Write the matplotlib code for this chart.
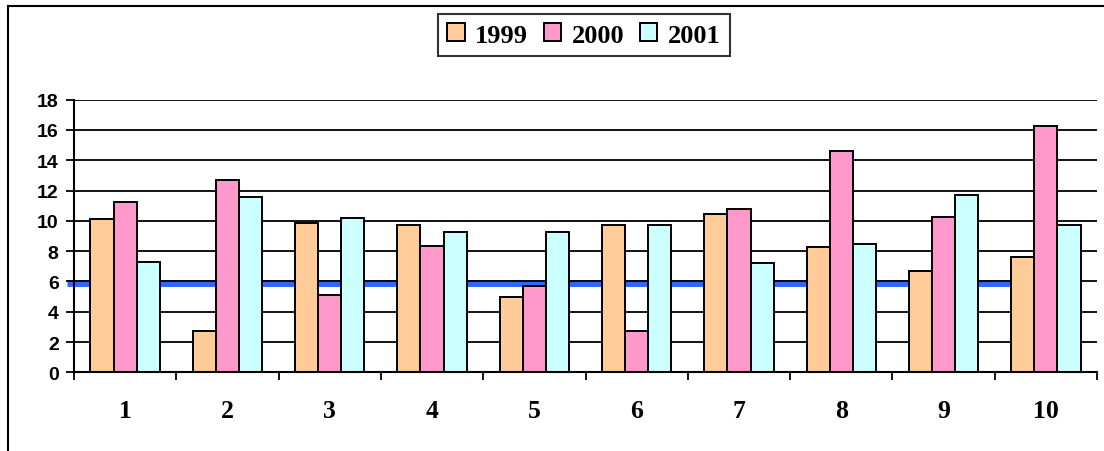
import matplotlib
matplotlib.use("Agg")
import matplotlib.pyplot as plt
from matplotlib.lines import Line2D
import numpy as np

categories = ["1", "2", "3", "4", "5", "6", "7", "8", "9", "10"]
series_names = ["1999", "2000", "2001"]
v1999 = [10.1, 2.7, 9.85, 9.75, 4.97, 9.72, 10.47, 8.25, 6.71, 7.59]
v2000 = [11.22, 12.71, 5.1, 8.34, 5.72, 2.73, 10.76, 14.6, 10.23, 16.24]
v2001 = [7.26, 11.59, 10.2, 9.24, 9.24, 9.72, 7.21, 8.49, 11.72, 9.72]
reference_level = 5.87
y_ticks = [0, 2, 4, 6, 8, 10, 12, 14, 16, 18]

colors = ["#FFCC99", "#FF99CC", "#CCFFFF"]

fig = plt.figure(figsize=(11.04, 4.52), dpi=100)
ax = fig.add_axes([74/1104, 1-373.3/452, (1097-74)/1104, (373.3-100.7)/452])

x = np.arange(len(categories))
w = 0.226
for i, (vals, name, c) in enumerate(zip([v1999, v2000, v2001], series_names, colors)):
    ax.bar(x + (i-1)*w, vals, width=w, color=c, edgecolor="black",
           linewidth=1.4, label=name, zorder=3)

# reference line (behind bars)
ax.plot([-0.57, 9.0], [reference_level, reference_level], color="#3366FF",
        linewidth=5, solid_capstyle="butt", zorder=1, clip_on=False)

ax.set_xlim(-0.5, 9.5)
ax.set_ylim(0, 18)
ax.set_yticks(y_ticks)
ax.set_yticklabels([str(t) for t in y_ticks], fontfamily="Liberation Sans",
                   fontweight="bold", fontsize=14)
ax.set_xticks(x)
ax.set_xticklabels(categories, fontfamily="Liberation Serif", fontweight="bold",
                   fontsize=18.5)
ax.set_xticks(np.arange(-0.5, 10, 1), minor=True)
ax.tick_params(axis="x", which="major", length=0, pad=19)
ax.tick_params(axis="x", which="minor", length=6, width=1.3, direction="out")
ax.tick_params(axis="y", length=6, width=1.3, direction="out", pad=5)

ax.yaxis.grid(True, color="black", linewidth=1.3, zorder=2)
ax.set_axisbelow(False)
for gl in ax.get_ygridlines():
    gl.set_zorder(2)
for s in ["top", "right"]:
    ax.spines[s].set_visible(False)
for s in ["left", "bottom"]:
    ax.spines[s].set_linewidth(1.5)
    ax.spines[s].set_zorder(4)

leg = fig.legend(loc="center", bbox_to_anchor=(584/1104, 1-36/452), ncol=3,
                 prop={"family": "Liberation Serif", "weight": "bold", "size": 19},
                 frameon=True, fancybox=False, handlelength=0.65, handleheight=0.65,
                 handletextpad=0.4, columnspacing=0.6, borderpad=0.35,
                 borderaxespad=0)
leg.get_frame().set_edgecolor("black")
leg.get_frame().set_linewidth(1.5)

# outer chart border (left and top visible)
fig.add_artist(Line2D([8/1104, 8/1104], [0, 1-7/452], color="black", linewidth=1.5,
                      transform=fig.transFigure))
fig.add_artist(Line2D([8/1104, 1], [1-7/452, 1-7/452], color="black", linewidth=1.5,
                      transform=fig.transFigure))

fig.savefig("out.png", dpi=100)
